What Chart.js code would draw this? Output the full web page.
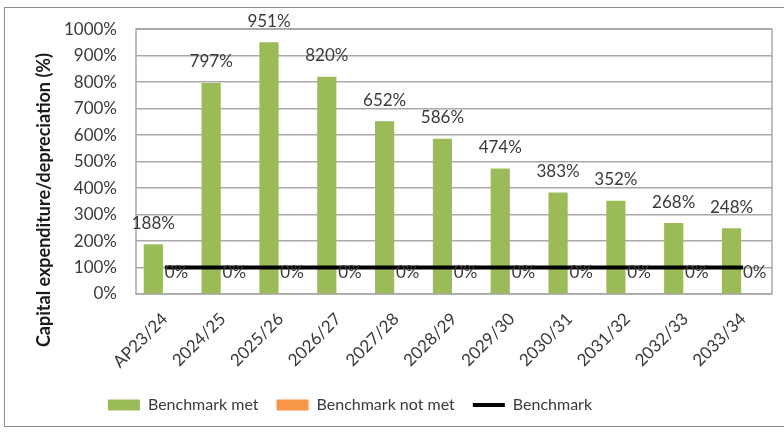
<!DOCTYPE html>
<html>
<head>
<meta charset="utf-8">
<script src="https://cdn.jsdelivr.net/npm/chart.js@4/dist/chart.umd.min.js"></script>
<style>
  html, body { margin: 0; padding: 0; background: #fff; overflow: hidden; }
  #wrap { position: relative; width: 784px; height: 432px; }
  #frame { position: absolute; left: 4px; top: 7px; width: 800px; height: 420px;
           border: 1px solid #8a8a8a; box-sizing: border-box; }
  canvas { position: absolute; left: 0; top: 0; }
</style>
</head>
<body>
<div id="wrap">
  <div id="frame"></div>
  <canvas id="chart" width="784" height="432"></canvas>
</div>
<script>
// Financial years on the category axis
const years = ['AP23/24', '2024/25', '2025/26', '2026/27', '2027/28', '2028/29',
               '2029/30', '2030/31', '2031/32', '2032/33', '2033/34'];
// Capital expenditure as a percentage of depreciation
const benchmarkMet = [188, 797, 951, 820, 652, 586, 474, 383, 352, 268, 248];
const benchmarkNotMet = [0, 0, 0, 0, 0, 0, 0, 0, 0, 0, 0];
const benchmark = [100, 100, 100, 100, 100, 100, 100, 100, 100, 100, 100];

const textColor = '#3a3a3a';
const gridColor = '#a9a9a9';

// Percentage labels above each bar
const valueLabels = {
  id: 'valueLabels',
  afterDatasetsDraw(chart) {
    const ctx = chart.ctx;
    ctx.save();
    ctx.font = '17px Lato';
    ctx.fillStyle = textColor;
    ctx.textAlign = 'center';
    ctx.textBaseline = 'middle';
    [0, 1].forEach(i => {
      const meta = chart.getDatasetMeta(i);
      const values = chart.data.datasets[i].data;
      meta.data.forEach((bar, j) => {
        ctx.fillText(values[j] + '%', bar.x, bar.y - 21);
      });
    });
    ctx.restore();
  }
};

// Border round the plot area
const plotFrame = {
  id: 'plotFrame',
  beforeDatasetsDraw(chart) {
    const {ctx, chartArea: a} = chart;
    ctx.save();
    ctx.strokeStyle = gridColor;
    ctx.lineWidth = 1.5;
    ctx.strokeRect(a.left, a.top, a.right - a.left, a.bottom - a.top);
    ctx.restore();
  }
};

// Vertical axis title
const yTitle = {
  id: 'yTitle',
  afterDraw(chart) {
    const ctx = chart.ctx;
    ctx.save();
    ctx.translate(44, 200);
    ctx.rotate(-Math.PI / 2);
    ctx.font = 'bold 18px Lato';
    ctx.fillStyle = '#1a1a1a';
    ctx.textAlign = 'center';
    ctx.textBaseline = 'middle';
    ctx.fillText('Capital expenditure/depreciation (%)', 0, 0);
    ctx.restore();
  }
};

// Legend sits a little left of the canvas centre
const legendShift = {
  id: 'legendShift',
  afterLayout(chart) {
    chart.legend.left -= 36;
    chart.legend.right -= 36;
  }
};

new Chart(document.getElementById('chart'), {
  type: 'bar',
  data: {
    labels: years,
    datasets: [
      { label: 'Benchmark met', data: benchmarkMet, backgroundColor: '#9bbb59',
        borderWidth: 0, order: 1, pointStyle: 'rect' },
      { label: 'Benchmark not met', data: benchmarkNotMet, backgroundColor: '#f79646',
        borderWidth: 0, order: 1, pointStyle: 'rect' },
      { type: 'line', label: 'Benchmark', data: benchmark, borderColor: '#000000',
        backgroundColor: '#000000', borderWidth: 4, pointRadius: 0, order: 0,
        pointStyle: 'line' }
    ]
  },
  options: {
    responsive: false,
    animation: false,
    devicePixelRatio: 1,
    categoryPercentage: 0.8,
    barPercentage: 0.83,
    layout: { padding: { top: 29, right: 12, bottom: 9, left: 0 } },
    plugins: {
      tooltip: { enabled: false },
      legend: {
        position: 'bottom',
        labels: {
          usePointStyle: true,
          pointStyleWidth: 32,
          boxHeight: 11,
          padding: 18,
          color: textColor,
          font: { family: 'Lato', size: 16 },
          sort: (a, b) => a.datasetIndex - b.datasetIndex
        }
      }
    },
    scales: {
      x: {
        grid: { display: false },
        border: { display: false },
        ticks: {
          color: textColor,
          font: { family: 'Lato', size: 17 },
          minRotation: 45,
          maxRotation: 45,
          autoSkip: false,
          padding: 7
        },
        afterFit(scale) { scale.height = 85; }
      },
      y: {
        min: 0,
        max: 1000,
        grid: { color: gridColor, lineWidth: 1.5, drawTicks: false },
        border: { display: false },
        ticks: {
          stepSize: 100,
          padding: 19,
          color: textColor,
          font: { family: 'Lato', size: 17 },
          callback: v => v + '%'
        },
        afterFit(scale) { scale.width = 136; }
      }
    }
  },
  plugins: [plotFrame, valueLabels, yTitle, legendShift]
});
</script>
</body>
</html>
